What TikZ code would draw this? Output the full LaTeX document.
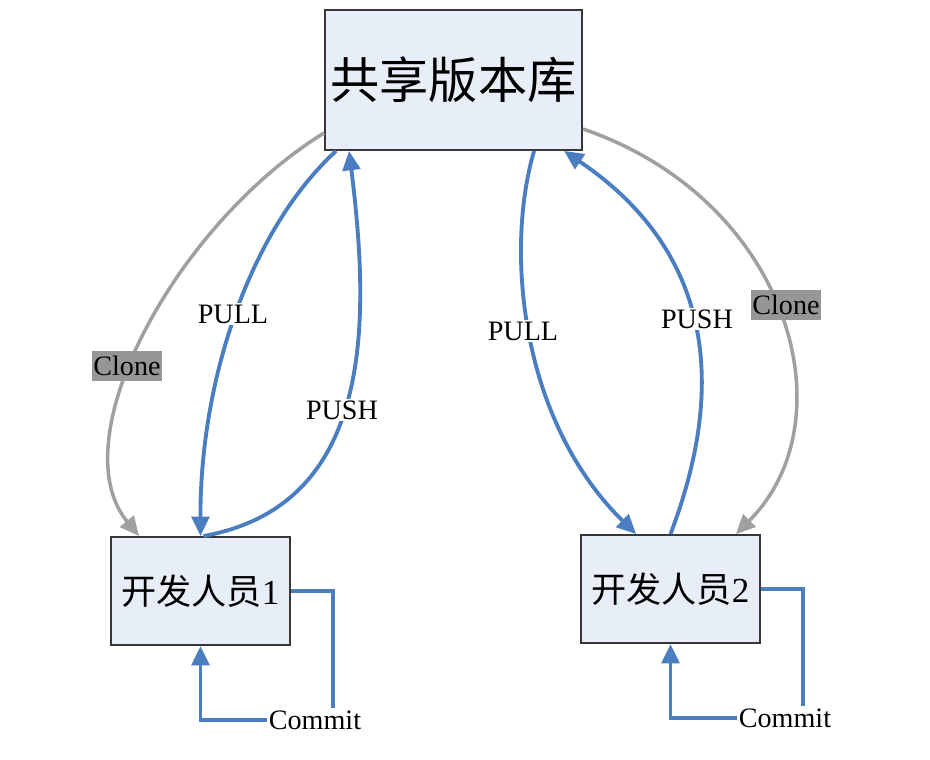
\documentclass[tikz,border=0pt]{standalone}
\usepackage{fontspec}
\setmainfont{Liberation Serif}
\newfontfamily\cjk{Noto Sans CJK SC}
\usepackage{xcolor}
\usepackage{tikz}
\usetikzlibrary{arrows.meta}
\usetikzlibrary{calc}
\usetikzlibrary{positioning}

\definecolor{flowblue}{RGB}{74,126,193}
\definecolor{clonegray}{RGB}{160,160,160}
\definecolor{labelgray}{RGB}{150,150,150}
\definecolor{boxfill}{RGB}{232,238,248}
\definecolor{boxline}{RGB}{55,55,55}

\begin{document}
\begin{tikzpicture}[x=0.02cm,y=-0.02cm,
	box/.style={draw=boxline,line width=1.1pt,fill=boxfill,inner sep=0pt},
	repobox/.style={box,minimum width=5.14cm,minimum height=2.8cm,font=\fontsize{28}{30}\selectfont},
	devbox/.style={box,minimum width=3.58cm,minimum height=2.16cm,font=\fontsize{20}{22}\selectfont},
	flow/.style={draw=flowblue,line width=2.2pt},
	clone/.style={draw=clonegray,line width=2pt},
	tip/.style={-{Triangle[length=11pt,width=10pt]}},
	lbl/.style={fill=white,inner sep=1pt,font=\fontsize{16}{18}\selectfont},
	clonelbl/.style={fill=labelgray,inner xsep=1pt,inner ysep=3pt,font=\fontsize{16}{18}\selectfont}]
	
	\useasboundingbox (0,0) rectangle (930,760);
	
	\node [repobox] (repo) at (453.5,80) {\cjk 共享版本库};
	
	\node [devbox] (dev1) at (200.5,591) {{\cjk 开发人员}1};
	
	\node [devbox] (dev2) at (670.5,589) {{\cjk 开发人员}2};
	
	\node [lbl] (commit1) at (315,720) {Commit};
	
	\node [lbl] (commit2) at (785,718) {Commit};
	
	% clone
	\draw [clone,tip] ($(repo.south west)+(0,-18)$) .. controls (175,225) and (60,440) .. ($(dev1.north west)+(29,0)$);
	
	\draw [clone,tip] ($(repo.south east)+(0,-22)$) .. controls (790,200) and (850,420) .. ($(dev2.north east)+(-25,0)$);
	
	% pull / push, left
	\draw [flow,tip] ($(repo.south west)+(12,0)$) .. controls (250,230) and (200,380) .. (dev1.north);
	
	\draw [flow,tip] ($(dev1.north)+(3,0)$) .. controls (375,505) and (370,320) .. ($(repo.south west)+(25,0)$);
	
	% pull / push, right
	\draw [flow,tip] ($(repo.south west)+(210,0)$) .. controls (505,250) and (520,420) .. ($(dev2.north west)+(56,0)$);
	
	\draw [flow,tip] (dev2.north) .. controls (710,430) and (740,270) .. ($(repo.south west)+(240,0)$);
	
	% commit
	\draw [flow] (dev1.east) -| ($(commit1.north)+(18,0)$);
	
	\draw [flow,tip] (commit1.west) -| (dev1.south);
	
	\draw [flow] (dev2.east) -| ($(commit2.north)+(18,0)$);
	
	\draw [flow,tip] (commit2.west) -| (dev2.south);
	
	\node [lbl] (pull1) at (233,314) {PULL};
	
	\node [lbl] (push1) at (342,410) {PUSH};
	
	\node [lbl] (pull2) at (523,331) {PULL};
	
	\node [lbl] (push2) at (697,319) {PUSH};
	
	\node [clonelbl] (clone1) at (127,366) {Clone};
	
	\node [clonelbl] (clone2) at (786,305) {Clone};
	
\end{tikzpicture}
\end{document}
